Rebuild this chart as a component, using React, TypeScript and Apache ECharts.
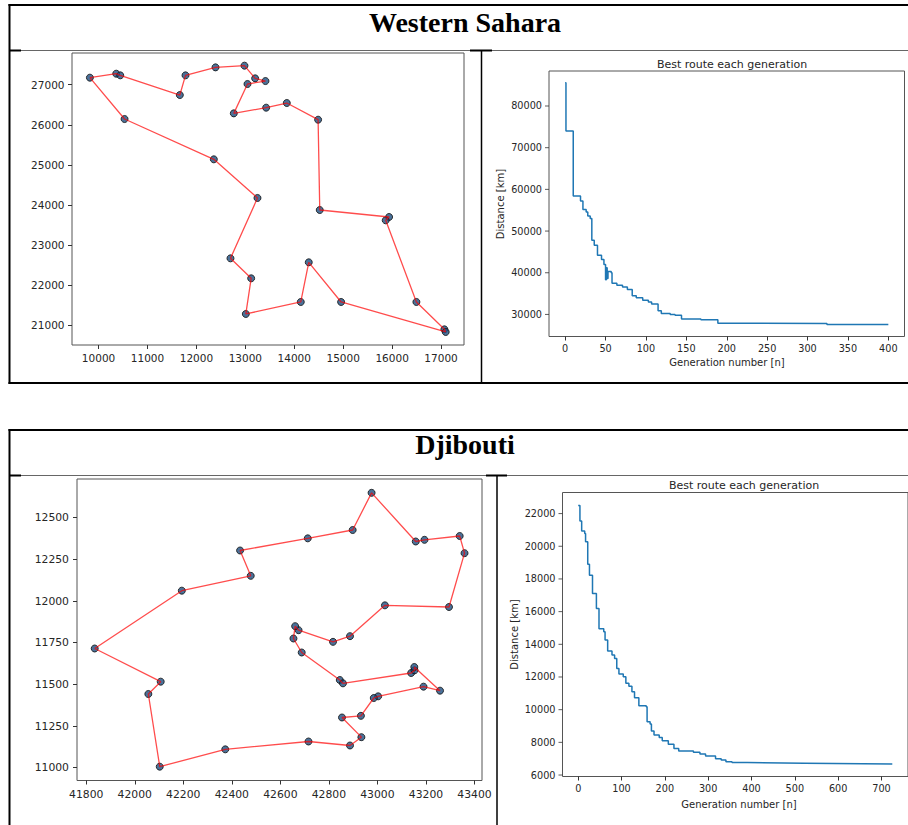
import React, { useEffect, useRef } from "react";
import * as echarts from "echarts";

// ---------- Western Sahara: route (in visiting order) ----------
const wsRouteX = [9823, 10361, 10443, 11661, 11777, 12390, 12982, 13200, 13411, 13044, 12764, 13425, 13847, 14487, 14521, 15938, 15869, 16496, 17068, 17095, 14957, 14296, 14133, 13010, 13119, 12696, 13248, 12356, 10531];
const wsRouteY = [27175, 27274, 27233, 26742, 27233, 27432, 27474, 27158, 27091, 27017, 26285, 26427, 26543, 26127, 23875, 23701, 23618, 21582, 20900, 20834, 21582, 22571, 21582, 21283, 22172, 22670, 24175, 25139, 26144];
const wsXTicks = [10000, 11000, 12000, 13000, 14000, 15000, 16000, 17000];
const wsYTicks = [21000, 22000, 23000, 24000, 25000, 26000, 27000];

// ---------- Western Sahara: best route per generation ----------
const wsGen = [0, 1, 10, 19, 22, 26, 28, 31, 33, 36, 40, 45, 48, 50, 51, 52, 53, 57, 58, 64, 71, 77, 83, 88, 96, 103, 107, 115, 119, 130, 136, 144, 168, 189, 196, 324, 400];
const wsDist = [85600, 74000, 58400, 57200, 55200, 54600, 53600, 53000, 47800, 46600, 44200, 43200, 42000, 38300, 41200, 38600, 40300, 40000, 37500, 37000, 36600, 36000, 34500, 34000, 33400, 33000, 32500, 30900, 30200, 30000, 29800, 28900, 28700, 27900, 27800, 27600, 27600];
const wsGenTicks = [0, 50, 100, 150, 200, 250, 300, 350, 400];
const wsDistTicks = [30000, 40000, 50000, 60000, 70000, 80000];

// ---------- Djibouti: route (in visiting order) ----------
const djRouteX = [41835, 42194, 42478, 42434, 42713, 42898, 42976, 43158, 43194, 43339, 43359, 43295, 43031, 42887, 42817, 42675, 42661, 42654, 42688, 42845, 42858, 43139, 43153, 43152, 43258, 43190, 43003, 42985, 42932, 42854, 42934, 42887, 42716, 42373, 42103, 42056, 42107];
const djRouteY = [11715, 12062, 12151, 12303, 12376, 12426, 12649, 12357, 12367, 12390, 12287, 11964, 11974, 11789, 11755, 11825, 11849, 11775, 11691, 11526, 11506, 11568, 11584, 11604, 11462, 11486, 11428, 11418, 11311, 11301, 11183, 11133, 11157, 11110, 11006, 11442, 11516];
const djXTicks = [41800, 42000, 42200, 42400, 42600, 42800, 43000, 43200, 43400];
const djYTicks = [11000, 11250, 11500, 11750, 12000, 12250, 12500];

// ---------- Djibouti: best route per generation ----------
const djGen = [0, 4, 8, 15, 17, 22, 26, 33, 42, 48, 59, 62, 68, 78, 84, 89, 94, 104, 110, 117, 124, 130, 140, 157, 159, 166, 169, 175, 187, 194, 208, 221, 232, 266, 281, 294, 317, 330, 341, 355, 390, 522, 725];
const djDist = [22500, 21550, 20940, 20780, 20270, 18900, 18230, 17110, 16190, 14950, 14770, 14260, 13590, 13340, 13130, 12520, 12180, 12010, 11610, 11440, 11100, 10730, 10240, 10180, 9260, 9120, 8690, 8450, 8300, 8100, 7880, 7630, 7470, 7390, 7290, 7160, 7000, 6920, 6820, 6760, 6720, 6680, 6680];
const djGenTicks = [0, 100, 200, 300, 400, 500, 600, 700];
const djDistTicks = [6000, 8000, 10000, 12000, 14000, 16000, 18000, 20000, 22000];

const FONT = "DejaVu Sans";
const TXT = "#262626";
const CHART_TITLE = "Best route each generation";
const X_NAME = "Generation number [n]";
const Y_NAME = "Distance [km]";

function axis(min: number, max: number, ticks: number[], fontSize: number, margin: number, showTick = true, extra: any = {}) {
  return {
    type: "value",
    min,
    max,
    axisLine: { show: false, onZero: false },
    axisTick: { show: showTick, length: 4, lineStyle: { color: "#333", width: 1 }, customValues: ticks },
    axisLabel: {
      customValues: ticks,
      formatter: (v: number) => String(v),
      fontSize,
      fontFamily: FONT,
      color: TXT,
      margin,
    },
    splitLine: { show: false },
    ...extra,
  };
}

// small outward tick marks on the left edge of a plot, placed by the axis scales
function leftTicks(xMin: number, ticks: number[]) {
  return {
    type: "scatter",
    silent: true,
    clip: false,
    z: 5,
    data: ticks.map((v) => [xMin, v]),
    symbol: "rect",
    symbolSize: [4, 1],
    symbolOffset: [-2, 0],
    itemStyle: { color: "#333" },
  };
}

function closed(xs: number[], ys: number[]) {
  const pts = xs.map((x, i) => [x, ys[i]]);
  pts.push([xs[0], ys[0]]);
  return pts;
}

const gridBase = { show: true, borderColor: "#555", borderWidth: 1, backgroundColor: "#fff" };
const dotStyle = { color: "#1d4d80", borderColor: "#0d0d0d", borderWidth: 1 };
const titleStyle = { fontSize: 11, fontWeight: "normal", fontFamily: FONT, color: TXT };

function routeOption(grid: any, xr: number[], yr: number[], xt: number[], yt: number[], fs: number, mx: number, my: number, xs: number[], ys: number[]) {
  return {
    animation: false,
    grid: { ...gridBase, ...grid },
    xAxis: axis(xr[0], xr[1], xt, fs, mx),
    yAxis: axis(yr[0], yr[1], yt, fs, my),
    series: [
      { type: "scatter", z: 2, data: xs.map((x, i) => [x, ys[i]]), symbol: "circle", symbolSize: 7, itemStyle: dotStyle },
      { type: "line", z: 3, data: closed(xs, ys), symbol: "none", lineStyle: { color: "#ff0000", opacity: 0.7, width: 1.3 } },
    ],
  };
}

function convOption(titleX: number, titleY: number, grid: any, xr: number[], yr: number[], xt: number[], yt: number[], gens: number[], dists: number[], xName: number[], yName: number[]) {
  return {
    animation: false,
    title: { text: CHART_TITLE, left: titleX, top: titleY, textAlign: "center", textStyle: titleStyle },
    grid: { ...gridBase, ...grid },
    xAxis: axis(xr[0], xr[1], xt, 9.7, 6.5),
    yAxis: axis(yr[0], yr[1], yt, 9.7, 7, false),
    series: [
      { type: "line", step: "end", data: gens.map((g, i) => [g, dists[i]]), symbol: "none", lineStyle: { color: "#1f77b4", width: 1.5 } },
      leftTicks(xr[0], yt),
    ],
    graphic: [
      { type: "text", x: xName[0], y: xName[1], style: { text: X_NAME, align: "center", verticalAlign: "middle", font: `10px '${FONT}'`, fill: TXT } },
      { type: "text", x: yName[0], y: yName[1], rotation: Math.PI / 2, style: { text: Y_NAME, align: "center", verticalAlign: "middle", font: `10px '${FONT}'`, fill: TXT } },
    ],
  };
}

function tableLine(x1: number, y1: number, x2: number, y2: number, stroke: string, lw: number) {
  return { type: "line", shape: { x1, y1, x2, y2 }, style: { stroke, lineWidth: lw }, silent: true };
}

export default function App() {
  const bgRef = useRef<HTMLDivElement>(null);
  const r1 = useRef<HTMLDivElement>(null);
  const r2 = useRef<HTMLDivElement>(null);
  const r3 = useRef<HTMLDivElement>(null);
  const r4 = useRef<HTMLDivElement>(null);

  useEffect(() => {
    const charts: any[] = [];
    const init = (el: HTMLDivElement | null) => {
      const c = echarts.init(el!, null, { renderer: "svg" });
      charts.push(c);
      return c;
    };

    // Background: table frame and section headings
    init(bgRef.current).setOption({
      animation: false,
      backgroundColor: "#fff",
      graphic: [
        tableLine(8.5, 5, 910, 5, "#000", 2),
        tableLine(9.5, 4, 9.5, 384, "#000", 2),
        tableLine(9.5, 50.5, 910, 50.5, "#666", 1),
        tableLine(9, 50.5, 21, 50.5, "#000", 2),
        tableLine(470, 50.5, 492, 50.5, "#000", 2),
        tableLine(481.5, 50, 481.5, 383, "#000", 1.5),
        tableLine(8.5, 383, 910, 383, "#000", 2),
        tableLine(8.5, 430, 910, 430, "#000", 2),
        tableLine(9.5, 429, 9.5, 830, "#000", 2),
        tableLine(9.5, 475.5, 910, 475.5, "#666", 1),
        tableLine(9, 475.5, 21, 475.5, "#000", 2),
        tableLine(486, 475.5, 507, 475.5, "#000", 2),
        tableLine(497, 475, 497, 830, "#000", 1.5),
        { type: "text", x: 465, y: 22, style: { text: "Western Sahara", align: "center", verticalAlign: "middle", font: "bold 28px 'Liberation Serif'", fill: "#000" } },
        { type: "text", x: 465, y: 444, style: { text: "Djibouti", align: "center", verticalAlign: "middle", font: "bold 28px 'Liberation Serif'", fill: "#000" } },
      ],
    });

    init(r1.current).setOption(
      routeOption({ left: 72, top: 53, width: 392, height: 292 }, [9457, 17469], [20509, 27790], wsXTicks, wsYTicks, 10.5, 7, 7.5, wsRouteX, wsRouteY)
    );

    init(r2.current).setOption(
      convOption(727, 54, { left: 549, top: 71, width: 355.5, height: 265.5 }, [-20, 420], [24705, 88395], wsGenTicks, wsDistTicks, wsGen, wsDist, [727, 362.5], [500, 204])
    );

    init(r3.current).setOption(
      routeOption({ left: 77, top: 479, width: 405, height: 301.5 }, [41762, 43431], [10923, 12732], djXTicks, djYTicks, 10.8, 8, 8, djRouteX, djRouteY)
    );

    init(r4.current).setOption(
      convOption(739, 475, { left: 562.5, top: 492.5, width: 353.5, height: 284 }, [-36.25, 761.25], [5910, 23290], djGenTicks, djDistTicks, djGen, djDist, [739, 804], [514.5, 634.5])
    );

    return () => charts.forEach((c) => c.dispose());
  }, []);

  const layer: React.CSSProperties = { position: "absolute", left: 0, top: 0, width: 908, height: 825 };
  return (
    <div style={{ ...layer, overflow: "hidden" }}>
      <div ref={bgRef} style={layer} />
      <div ref={r1} style={layer} />
      <div ref={r2} style={layer} />
      <div ref={r3} style={layer} />
      <div ref={r4} style={layer} />
    </div>
  );
}
